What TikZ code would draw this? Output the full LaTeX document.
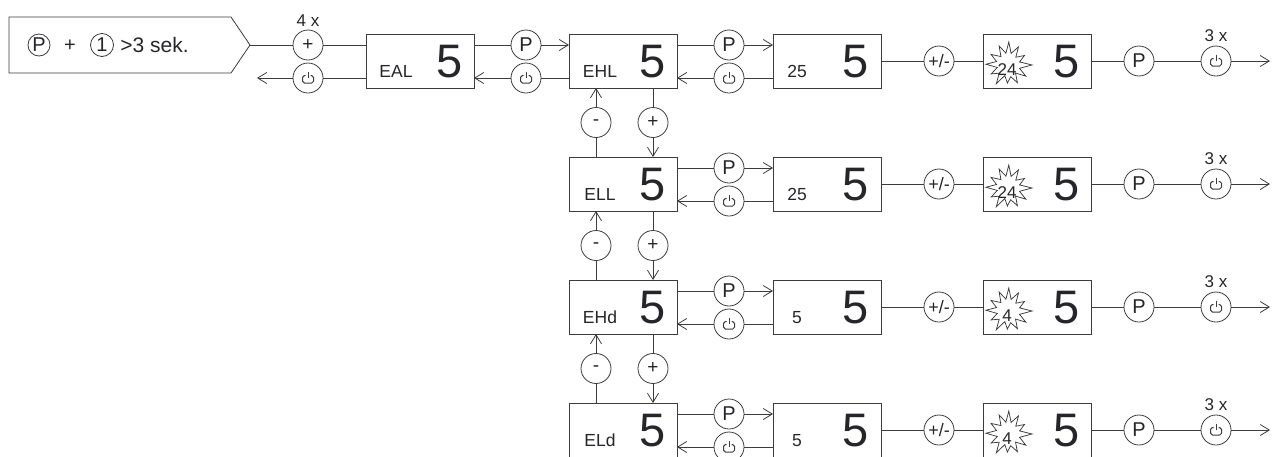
\documentclass[tikz,border=0pt]{standalone}
\usepackage{fontspec}
\setmainfont{Liberation Sans}
\usetikzlibrary{arrows.meta,calc}
\definecolor{ln}{RGB}{60,60,60}
\definecolor{tx}{RGB}{38,38,42}
\newcommand\mystarburst[1]{\draw[draw=ln,line width=0.75pt,shift={(#1)}] (0:24pt) -- (15:12pt) -- (30:19pt) -- (45:11pt) -- (60:21pt) -- (75:12pt) -- (88:23pt) -- (100:12pt) -- (115:21pt) -- (130:11pt) -- (148:20pt) -- (163:12pt) -- (178:22pt) -- (193:11pt) -- (208:19pt) -- (223:12pt) -- (238:22pt) -- (253:11pt) -- (268:18pt) -- (283:12pt) -- (298:20pt) -- (313:11pt) -- (328:21pt) -- (344:12pt) -- cycle;}
\begin{document}
\begin{tikzpicture}[x=1pt,y=-1pt,line width=0.8pt,draw=ln,
  disp/.style={draw=ln,minimum width=108pt,minimum height=54pt,inner sep=0pt,outer sep=0pt,anchor=north west},
  circ/.style={draw=ln,circle,minimum size=30pt,inner sep=0pt,text=tx,font=\fontsize{20}{20}\selectfont},
  small/.style={font=\fontsize{19}{19}\selectfont},
  pwr/.style={circ,path picture={
     \draw[draw=ln,line width=1pt,rounded corners=1.8pt] ([shift={(-2.5pt,2.5pt)}]path picture bounding box.center) -- ++(-3pt,0pt) -- ++(0pt,-7.5pt) -- ++(11pt,0pt) -- ++(0pt,7.5pt) -- ++(-3pt,0pt);
     \draw[draw=ln,line width=1pt] ([shift={(0pt,6.5pt)}]path picture bounding box.center) -- ++(0pt,-6.5pt);}},
  arr/.style={draw=ln,-{Straight Barb[length=9pt,width=11pt]}},
  big/.style={font=\fontsize{47}{47}\selectfont,text=tx,anchor=base,inner sep=0pt},
  lab/.style={font=\fontsize{17.5}{17.5}\selectfont,text=tx,anchor=base,inner sep=0pt},
  cnt/.style={font=\fontsize{17}{17}\selectfont,text=tx,inner sep=0pt},
  stxt/.style={font=\fontsize{17}{17}\selectfont,text=tx,inner sep=0pt},
]
\useasboundingbox (0,0) rectangle (1272,456);
% start pentagon
\draw (9,17) -- (231,17) -- (250,45) -- (231,73) -- (9,73) -- cycle;
\coordinate (start) at (250,45);
\node[circ,minimum size=22pt,font=\fontsize{20}{20}\selectfont] (sP) at (39,45) {P};
\node[stxt,font=\fontsize{20}{20}\selectfont] (sPlus) at (70,46) {+};
\node[circ,minimum size=23pt,font=\fontsize{20}{20}\selectfont] (s1) at (102,45) {1};
\node[stxt,anchor=west,font=\fontsize{21}{21}\selectfont] (sTxt) at (120,45) {>3 sek.};
% row 1 left part
\node[circ,small] (cPl) at (308,45) {+};
\node[cnt] (c4x) at (308,21) {4 x};
\node[pwr] (cOff) at (308,78) {};
\coordinate (back) at (257,78);
\node[disp] (bEAL) at (366,34) {};
\node[lab] (tEAL) at ($(bEAL.north west)+(30,43)$) {EAL};
\node[big] (vEAL) at ($(bEAL.north east)+(-24,43)$) {5};
\draw (start) -- (cPl) -- (bEAL.west |- cPl);
\draw (bEAL.west |- cOff) -- (cOff);
\draw[arr] (cOff) -- (back);
\node[circ] (pE) at (526,45) {P};
\node[pwr] (oE) at (526,78) {};
% rows
\foreach \r/\lb/\va/\sv in {1/EHL/25/24,2/ELL/25/24,3/EHd/5/4,4/ELd/5/4}{
  \pgfmathsetmacro\top{34+123*(\r-1)}
  \node[disp] (bL\r) at (569,\top) {};
  \node[lab] (tL\r) at ($(bL\r.north west)+(31,43)$) {\lb};
  \node[big] (vL\r) at ($(bL\r.north east)+(-24,43)$) {5};
  \node[circ] (pA\r) at (729,\top+11) {P};
  \node[pwr] (oA\r) at (729,\top+44) {};
  \node[disp] (bV\r) at (773,\top) {};
  \node[lab] (tV\r) at ($(bV\r.north west)+(24,43)$) {\va};
  \node[big] (vV\r) at ($(bV\r.north east)+(-25,43)$) {5};
  \node[circ,font=\fontsize{18}{18}\selectfont] (pm\r) at (939,\top+27) {+/-};
  \node[disp] (bS\r) at (983,\top) {};
  \coordinate (st\r) at ($(bS\r.north west)+(25,31)$);
  \mystarburst{st\r}
  \node[stxt] (sv\r) at ($(bS\r.north west)+(24,36)$) {\sv};
  \node[big] (vS\r) at ($(bS\r.north east)+(-24,43)$) {5};
  \node[circ] (pB\r) at (1139,\top+27) {P};
  \node[pwr] (oB\r) at (1216,\top+27) {};
  \node[cnt] (n3x\r) at (1216,\top+2) {3 x};
  \coordinate (e\r) at (1270,\top+27);
  \draw (bL\r.east |- pA\r) -- (pA\r);
  \draw[arr] (pA\r) -- (bV\r.west |- pA\r);
  \draw (bV\r.west |- oA\r) -- (oA\r);
  \draw[arr] (oA\r) -- (bL\r.east |- oA\r);
  \draw (bV\r) -- (pm\r) -- (bS\r);
  \draw (bS\r) -- (pB\r) -- (oB\r);
  \draw[arr] (oB\r) -- (e\r);
}
\draw (bEAL.east |- pE) -- (pE);
\draw[arr] (pE) -- (bL1.west |- pE);
\draw (bL1.west |- oE) -- (oE);
\draw[arr] (oE) -- (bEAL.east |- oE);
% vertical links
\foreach \r in {1,2,3}{
  \pgfmathtruncatemacro\nx{\r+1}
  \pgfmathsetmacro\my{34+123*(\r-1)+88.5}
  \node[circ,small] (mi\r) at (596,\my) {-};
  \node[circ,small] (pl\r) at (653,\my) {+};
  \draw (bL\nx.north -| mi\r) -- (mi\r);
  \draw[arr] (mi\r) -- (bL\r.south -| mi\r);
  \draw (bL\r.south -| pl\r) -- (pl\r);
  \draw[arr] (pl\r) -- (bL\nx.north -| pl\r);
}
\end{tikzpicture}
\end{document}
